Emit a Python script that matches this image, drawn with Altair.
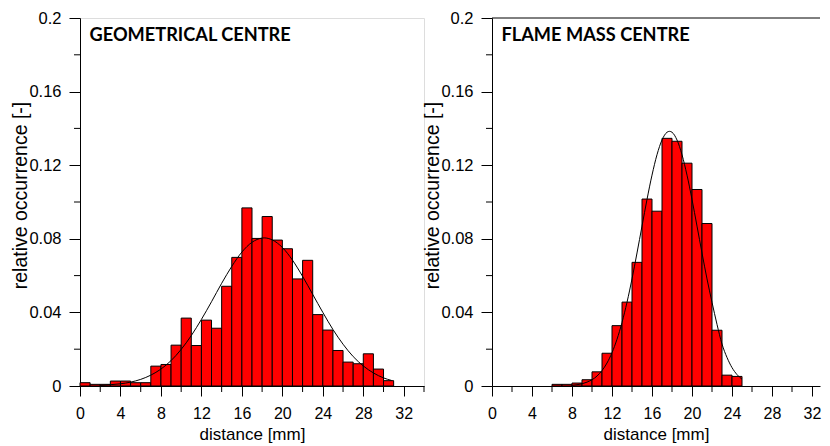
import altair as alt
import pandas as pd

# ---- data ----
geo_bin_start = list(range(0, 31))
geo_values = [0.0018, 0.0009, 0.0009, 0.0027, 0.0027, 0.0018, 0.0018, 0.0108, 0.0117, 0.0222,
              0.0369, 0.0220, 0.0358, 0.0314, 0.0542, 0.0699, 0.0968, 0.0802, 0.0921, 0.0793,
              0.0746, 0.0582, 0.0683, 0.0388, 0.0304, 0.0193, 0.0130, 0.0121, 0.0175, 0.0092,
              0.0029]

flame_bin_start = list(range(6, 25))
flame_values = [0.0009, 0.0009, 0.0016, 0.0034, 0.0077, 0.0178, 0.0328, 0.0456, 0.0672, 0.1016,
                0.0950, 0.1346, 0.1330, 0.1211, 0.1068, 0.0883, 0.0303, 0.0059, 0.0052]

geo_fit_x = [2, 3, 4, 5, 6, 7, 8, 9, 10, 11, 12, 13, 14, 15, 16, 17, 18, 18.2, 19, 20, 21, 22,
             23, 24, 25, 26, 27, 28, 29, 30, 30.8]
geo_fit_y = [0.0003, 0.0007, 0.0012, 0.0021, 0.0036, 0.0059, 0.0092, 0.0138, 0.0199, 0.0274,
             0.0362, 0.0458, 0.0558, 0.0650, 0.0728, 0.0781, 0.0804, 0.0805, 0.0794, 0.0753,
             0.0684, 0.0596, 0.0498, 0.0400, 0.0307, 0.0227, 0.0160, 0.0109, 0.0071, 0.0044,
             0.0030]

flame_fit_x = [8, 8.5, 9, 9.5, 10, 10.5, 11, 11.5, 12, 12.5, 13, 13.5, 14, 14.5, 15, 15.5, 16,
               16.5, 17, 17.5, 17.75, 18, 18.5, 19, 19.5, 20, 20.5, 21, 21.5, 22, 22.5, 23,
               23.5, 24, 24.5, 25]
flame_fit_y = [0.0004, 0.0007, 0.0012, 0.0021, 0.0034, 0.0054, 0.0084, 0.0125, 0.0181, 0.0254,
               0.0345, 0.0455, 0.0582, 0.0723, 0.0869, 0.1014, 0.1146, 0.1257, 0.1337, 0.1379,
               0.1384, 0.1379, 0.1337, 0.1257, 0.1146, 0.1014, 0.0869, 0.0723, 0.0582, 0.0455,
               0.0335, 0.0228, 0.0155, 0.0100, 0.0062, 0.0037]

x_major = [0, 4, 8, 12, 16, 20, 24, 28, 32]
x_minor = [2, 6, 10, 14, 18, 22, 26, 30, 34]
y_major = [0, 0.04, 0.08, 0.12, 0.16, 0.2]
y_minor = [0.02, 0.06, 0.10, 0.14, 0.18]

titles = ["GEOMETRICAL CENTRE", "FLAME MASS CENTRE"]
x_title = "distance [mm]"
y_title = "relative occurrence [-]"

H = 368
W_L, XMAX_L = 344, 34.0
W_R, XMAX_R = 328, 32.8
FONT = "Liberation Sans"


def panel(starts, values, fx, fy, title, width, xmax, framed):
    bars_df = pd.DataFrame({"start": starts, "end": [s + 1 for s in starts], "value": values})
    fit_df = pd.DataFrame({"x": fx, "y": fy})
    xs = alt.Scale(domain=[0, xmax], nice=False, zero=False)
    ys = alt.Scale(domain=[0, 0.2], nice=False)
    major_vals = [v for v in x_major if v <= xmax]
    xaxis = alt.Axis(values=major_vals, format="d", tickSize=10, labelPadding=9, labelFontSize=16,
                     labelFont=FONT, labelColor="black", labelFlush=False, domainColor="black",
                     tickColor="black", grid=False, title=x_title, titleFont=FONT,
                     titleFontSize=17, titleFontWeight="normal", titleColor="black",
                     titleBaseline="alphabetic", titleX=width / 2, titleY=53)
    yaxis = alt.Axis(values=y_major, format=".2~f", tickSize=11, labelPadding=8,
                     labelFontSize=16.5, labelFont=FONT, labelColor="black",
                     domainColor="black", tickColor="black", grid=False, title=y_title,
                     titleFont=FONT, titleFontSize=19.5, titleFontWeight="normal",
                     titleColor="black", titleAngle=270, titleBaseline="alphabetic",
                     titleAlign="center", titleX=-54, titleY=H / 2 - 7)
    bars = alt.Chart(bars_df).mark_bar(color="#FF0000", stroke="black", strokeWidth=1).encode(
        x=alt.X("start:Q", scale=xs, axis=xaxis),
        x2="end:Q",
        y=alt.Y("value:Q", scale=ys, axis=yaxis),
        y2=alt.datum(0),
    )
    fit = alt.Chart(fit_df).mark_line(color="black", strokeWidth=1, interpolate="monotone").encode(
        x=alt.X("x:Q", scale=xs), y=alt.Y("y:Q", scale=ys)
    )
    minor_vals = [v for v in x_minor if v <= xmax]
    mx = alt.Chart(pd.DataFrame({"t": minor_vals})).mark_rule(color="black", strokeWidth=1).encode(
        x=alt.X("t:Q", scale=xs), y=alt.value(H), y2=alt.value(H + 6)
    )
    my = alt.Chart(pd.DataFrame({"t": y_minor})).mark_rule(color="black", strokeWidth=1).encode(
        y=alt.Y("t:Q", scale=ys), x=alt.value(-6), x2=alt.value(0)
    )
    txt = alt.Chart(pd.DataFrame({"t": [title]})).mark_text(
        align="left", baseline="alphabetic", font="Lato", fontWeight="bold", fontSize=18.2,
        color="black"
    ).encode(text="t:N", x=alt.value(9.5), y=alt.value(22.5))
    layers = [bars, fit, mx, my, txt]
    if not framed:
        top = alt.Chart(pd.DataFrame({"t": [0]})).mark_rule(color="black", strokeWidth=1).encode(
            x=alt.value(0), x2=alt.value(width), y=alt.value(0)
        )
        layers.append(top)
        return alt.layer(*layers).properties(
            width=width, height=H, view=alt.ViewBackground(stroke="transparent")
        )
    return alt.layer(*layers).properties(width=width, height=H)


left = panel(geo_bin_start, geo_values, geo_fit_x, geo_fit_y, titles[0], W_L, XMAX_L, True)
right = panel(flame_bin_start, flame_values, flame_fit_x, flame_fit_y, titles[1], W_R, XMAX_R, False)

chart = alt.hconcat(left, right, spacing=68, bounds="flush").properties(
    padding={"left": 1, "top": 1, "right": 0, "bottom": 0}
).configure_view(stroke="black", strokeWidth=1).configure(background="white")

chart.save("out.html", embed_options={"renderer": "svg", "actions": False})
